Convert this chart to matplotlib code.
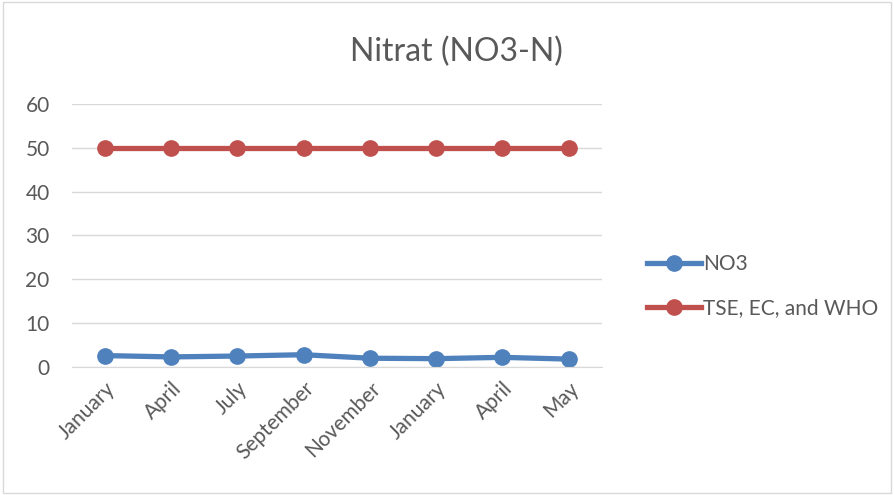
import matplotlib.pyplot as plt

months = ['January', 'April', 'July', 'September', 'November', 'January', 'April', 'May']
no3 = [2.6, 2.3, 2.5, 2.8, 2.0, 1.9, 2.2, 1.8]
limit = [50, 50, 50, 50, 50, 50, 50, 50]

plt.rcParams['font.family'] = ['Lato', 'DejaVu Sans']

fig = plt.figure(figsize=(8.94, 4.95), dpi=100)
ax = fig.add_axes([0.0805, 0.2586, 0.5925, 0.5314])

x = list(range(len(months)))
ax.plot(x, no3, color='#4F81BD', lw=3.8, marker='o', ms=11, label='NO3')
ax.plot(x, limit, color='#C0504D', lw=3.8, marker='o', ms=11, label='TSE, EC, and WHO')

ax.set_xlim(-0.5, len(months) - 0.5)
ax.set_ylim(0, 60)
ax.set_yticks(range(0, 61, 10))
ax.yaxis.grid(True, color='#D9D9D9', lw=1)
ax.set_axisbelow(True)
for s in ['top', 'right', 'left']:
    ax.spines[s].set_visible(False)
ax.spines['bottom'].set_color('#D9D9D9')
ax.tick_params(axis='both', length=0, labelsize=15, colors='#595959', pad=8)
ax.tick_params(axis='y', pad=16)
ax.set_xticks(x)
ax.set_xticklabels(months, rotation=45, ha='right', rotation_mode='anchor')

fig.text(0.511, 0.895, 'Nitrat (NO3-N)', ha='center', va='center', fontsize=23, color='#595959')

ax.legend(loc='center left', bbox_to_anchor=(1.05, 0.307), frameon=False, fontsize=15,
          labelcolor='#595959', handlelength=2.6, handletextpad=0.1, labelspacing=1.15)

border = plt.Rectangle((0.003, 0.004), 0.994, 0.992, transform=fig.transFigure,
                       fill=False, edgecolor='#D9D9D9', lw=1)
fig.add_artist(border)

fig.savefig('out.png', dpi=100)
